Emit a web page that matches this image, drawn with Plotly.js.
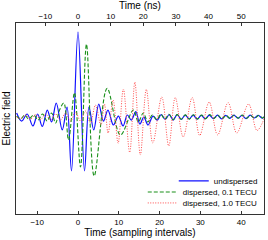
<!DOCTYPE html>
<html><head><meta charset="utf-8">
<script src="https://cdn.plot.ly/plotly-3.0.1.min.js"></script>
<style>html,body{margin:0;padding:0;background:#fff;}#c{width:268px;height:240px;}</style>
</head><body><div id="c"></div>
<script>
// Time in sampling intervals, field in arbitrary units (undispersed peak = 1)
const tUndispersed = [-15.04,-13.81,-12.47,-11.05,-9.90,-8.75,-7.53,-6.48,-5.33,-3.86,-2.69,-1.59,0,1.59,2.69,3.86,5.09,6.24,7.34,8.68,9.90,11.05,12.10,13.08,14.18,15.16,16.14,17.17,18.39,19.44,20.42,21.39,22.37,23.35,24.33,25.31,26.28,27.26,28.24,29.2,30.2,31.2,32.2,33.2,34.2,35.2,36.2,37.2,38.2,39.2,40.2,41.2,42.2,43.2,44.2,45.2,45.6];
const eUndispersed = [0.044,-0.051,0.032,-0.109,0.032,-0.115,0.079,-0.062,0.161,-0.156,0.114,-0.639,1.0,-0.639,0.114,-0.156,0.149,-0.051,0.079,-0.098,0.008,-0.109,0.020,-0.039,0.061,-0.086,-0.004,-0.098,0.008,-0.039,0.026,-0.033,0.026,-0.040,0.026,-0.033,0.020,-0.027,0.020,-0.030,0.015,-0.025,0.020,-0.022,0.018,-0.025,0.015,-0.020,0.020,-0.018,0.015,-0.022,0.018,-0.015,0.015,-0.018,0.0];

const tDisp01 = [-15.04,-14.06,-13.08,-12.10,-10.88,-9.78,-8.68,-7.58,-6.48,-5.50,-4.52,-3.47,-2.32,-0.86,0.61,2.08,3.96,7.14,10.39,13.57,14.79,16.01,17.12,18.22,19.3,20.3,21.3,22.3,23.3,24.3,25.3,26.3,27.3,28.3,29.3,30.3,31.3,32.3,33.3,34.3,35.3,36.3,37.3,38.3,39.3,40.3,41.3,42.3,43.3,44.3,45.3,45.6];
const eDisp01 = [0.008,-0.027,0.020,-0.027,0.020,-0.039,0.032,-0.051,0.044,-0.074,0.079,0.161,-0.274,0.282,-0.592,0.855,-0.699,0.334,-0.215,0.079,-0.062,0.044,-0.062,0.020,-0.035,0.030,-0.030,0.028,-0.035,0.025,-0.030,0.022,-0.028,0.024,-0.025,0.020,-0.022,0.025,-0.020,0.018,-0.024,0.016,-0.020,0.018,-0.016,0.020,-0.018,0.015,-0.016,0.014,-0.015,0.0];

const tDisp10 = [-15.04,-14.06,-12.84,-11.61,-10.39,-9.17,-7.95,-6.72,-5.50,-4.28,-3.06,-1.83,-0.61,0.61,1.83,3.06,4.28,5.62,6.48,7.38,8.61,9.83,11.12,12.67,13.94,15.28,16.75,18.34,20.54,22.25,23.84,25.79,28.00,29.83,32.15,34.23,36.80,38.92,41.81,43.89,45.60];
const eDisp10 = [-0.004,-0.021,0.020,-0.027,0.026,-0.033,0.032,-0.039,0.032,-0.039,0.044,-0.051,0.055,-0.051,0.067,-0.074,0.138,-0.098,0.149,-0.192,0.196,-0.313,0.326,-0.421,0.408,-0.451,0.322,-0.309,0.232,-0.345,0.226,-0.239,0.226,-0.221,0.173,-0.215,0.167,-0.192,0.149,-0.162,-0.027];

const seriesNames = ["undispersed","dispersed, 0.1 TECU","dispersed, 1.0 TECU"];
const nsPerSample = 1.25;
const xRange = [-15.2, 45.6];

const font = "Liberation Sans, Arial, sans-serif";
const traces = [
  {x:tUndispersed, y:eUndispersed, name:seriesNames[0], mode:"lines", legend:"legend",
   line:{color:"#1010ff", width:1.2, shape:"spline", smoothing:1}},
  {x:tDisp01, y:eDisp01, name:seriesNames[1], mode:"lines", legend:"legend2",
   line:{color:"#1a901a", width:1.1, dash:"4px,2px", shape:"spline", smoothing:1}},
  {x:tDisp10, y:eDisp10, name:seriesNames[2], mode:"lines", legend:"legend3",
   line:{color:"#ff4a4a", width:1, dash:"1px,1.5px", shape:"spline", smoothing:1}},
  // same undispersed series on the ns axis (transparent) so the top axis is drawn
  {x:tUndispersed.map(t => t*nsPerSample), y:eUndispersed, xaxis:"x2", mode:"lines",
   showlegend:false, hoverinfo:"skip", opacity:0, line:{width:0.1, color:"#0000ff"}}
];
const legBase = {x:0.995, xanchor:"right", yanchor:"middle", bgcolor:"rgba(0,0,0,0)",
                 font:{size:8, family:font}, itemwidth:30};
const layout = {
  width:268, height:240,
  margin:{l:16, r:4, t:23, b:26, pad:0},
  paper_bgcolor:"#fff", plot_bgcolor:"#fff",
  font:{family:font, size:8, color:"#000"},
  showlegend:true,
  legend:Object.assign({}, legBase, {y:0.173}),
  legend2:Object.assign({}, legBase, {y:0.115}),
  legend3:Object.assign({}, legBase, {y:0.058}),
  xaxis:{range:xRange, tickvals:[-10,0,10,20,30,40], ticks:"inside", ticklen:3, tickcolor:"#333",
         showline:true, linecolor:"#333", linewidth:1, mirror:false, showgrid:false, zeroline:false,
         tickfont:{size:8}, title:{text:"Time (sampling intervals)", font:{size:10}, standoff:0}},
  xaxis2:{overlaying:"x", side:"top", anchor:"y",
          range:[xRange[0]*nsPerSample, xRange[1]*nsPerSample],
          tickvals:[-10,0,10,20,30,40,50], ticks:"inside", ticklen:3, tickcolor:"#333",
          showline:true, linecolor:"#333", linewidth:1, showgrid:false, zeroline:false,
          tickfont:{size:8}, title:{text:"Time (ns)", font:{size:10}, standoff:0}},
  yaxis:{range:[-1.148, 1.106], showticklabels:false, ticks:"", showline:true, mirror:true,
         linecolor:"#333", linewidth:1, showgrid:false, zeroline:false,
         title:{text:"Electric field", font:{size:10}, standoff:2}}
};
Plotly.newPlot("c", traces, layout, {staticPlot:true, displayModeBar:false});
</script></body></html>
